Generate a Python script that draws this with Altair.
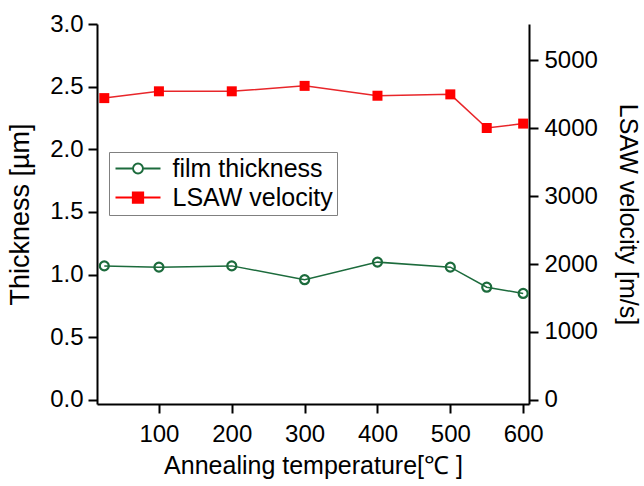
import altair as alt
import pandas as pd

temps = [25, 100, 200, 300, 400, 500, 550, 600]
thickness = [1.07, 1.06, 1.07, 0.96, 1.10, 1.06, 0.90, 0.85]
velocity = [4440, 4540, 4540, 4620, 4475, 4495, 4000, 4065]
series_names = ["film thickness", "LSAW velocity"]
x_ticks = [100, 200, 300, 400, 500, 600]
left_ticks = [0, 0.5, 1.0, 1.5, 2.0, 2.5, 3.0]
right_ticks = [0, 1000, 2000, 3000, 4000, 5000]

df = pd.DataFrame({"temp": temps, "thickness": thickness, "velocity": velocity})

GREEN = "#1c6b3c"
RED = "#ff0000"
RED_LINE = "#e8262a"
FONT = "Liberation Sans"

CIRCLE_PATH = "M-5,0H-1.1M1.1,0H5M-1.1,0A1.1,1.1 0 1,0 1.1,0A1.1,1.1 0 1,0 -1.1,0"
SQUARE_PATH = "M-5,0H5M-1.15,-1.15H1.15V1.15H-1.15Z"

axis_common = dict(
    labelFont=FONT, titleFont=FONT, labelFontSize=24,
    titleFontWeight="normal", labelColor="black", titleColor="black",
    domainColor="black", domainWidth=2, tickColor="black", tickWidth=2,
    tickSize=9, grid=False,
)

x_enc = alt.X(
    "temp:Q",
    scale=alt.Scale(domain=[15, 608], nice=False, zero=False),
    axis=alt.Axis(values=x_ticks, title="Annealing temperature[℃ ]", titleFontSize=25,
                  labelPadding=9, titlePadding=7, labelFlush=False, **axis_common),
)

y_left = alt.Y(
    "thickness:Q",
    scale=alt.Scale(domain=[-0.032, 3.0], nice=False, zero=False),
    axis=alt.Axis(values=left_ticks, format=".1f", title="Thickness [µm]", titleFontSize=27,
                  labelPadding=5, titlePadding=15, orient="left", **axis_common),
)

y_right = alt.Y(
    "velocity:Q",
    scale=alt.Scale(domain=[-59, 5530], nice=False, zero=False),
    axis=alt.Axis(values=right_ticks, format="d", title="LSAW velocity [m/s]", titleFontSize=25,
                  labelPadding=6, titlePadding=17, orient="right", **axis_common),
)

base = alt.Chart(df)

green_line = base.mark_line(color=GREEN, strokeWidth=1.5).encode(x=x_enc, y=y_left)
green_pts = base.mark_point(shape="circle", size=81, filled=False, color=GREEN,
                            strokeWidth=2.2, opacity=1).encode(x=x_enc, y=y_left)

legend = alt.Legend(
    title=None, orient="none", legendX=12, legendY=128,
    strokeColor="#808080", fillColor="white", padding=4,
    labelFont=FONT, labelFontSize=25, labelColor="black", labelLimit=0,
    symbolSize=81, symbolStrokeWidth=1.9, symbolOffset=12.5, labelOffset=22,
    symbolFillColor="white", symbolOpacity=1, rowPadding=3,
)

legend_layer = (
    base.transform_calculate(series="'film thickness'")
    .transform_filter("false")
    .mark_point(filled=False)
    .encode(
        x=x_enc, y=y_left,
        color=alt.Color("series:N", scale=alt.Scale(domain=series_names, range=[GREEN, RED]), legend=legend),
        fill=alt.Fill("series:N", scale=alt.Scale(domain=series_names, range=["white", RED]), legend=legend),
        shape=alt.Shape("series:N", scale=alt.Scale(domain=series_names, range=[CIRCLE_PATH, SQUARE_PATH]), legend=legend),
    )
)

red_line = base.mark_line(color=RED_LINE, strokeWidth=1.5).encode(x=x_enc, y=y_right)
red_pts = base.mark_point(shape="square", size=100, filled=True, color=RED,
                          opacity=1).encode(x=x_enc, y=y_right)

left = alt.layer(green_line, green_pts, legend_layer)
right = alt.layer(red_line, red_pts)

chart = (
    alt.layer(left, right)
    .resolve_scale(y="independent")
    .properties(
        width=432, height=380,
        autosize=alt.AutoSizeParams(type="none"),
        padding={"left": 97, "top": 24, "right": 115, "bottom": 82},
        background="white",
    )
    .configure_view(stroke=None)
)

chart.save("out.html", embed_options={"renderer": "svg", "actions": False})
